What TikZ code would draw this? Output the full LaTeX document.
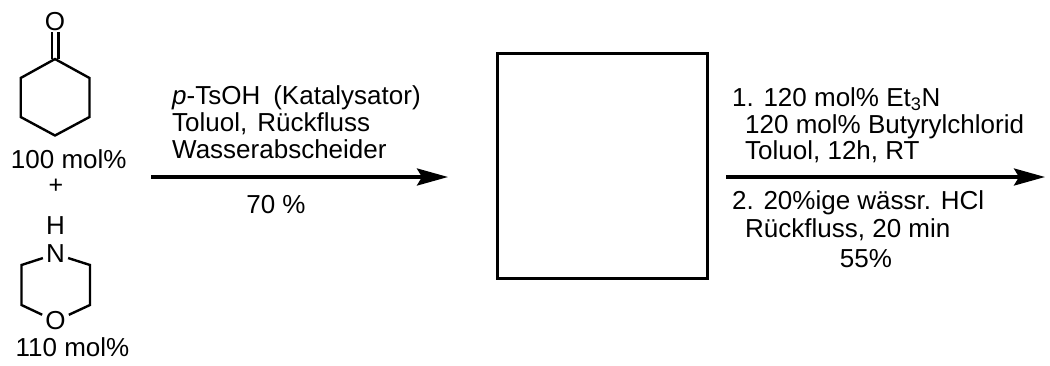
\documentclass[tikz,border=0pt]{standalone}
\usepackage{fontspec}
\setmainfont{Liberation Sans}
\usetikzlibrary{arrows.meta}
\begin{document}
\begin{tikzpicture}[x=1pt,y=-1pt,
  bond/.style={line width=2.4pt},
  atom/.style={font=\fontsize{26}{28}\selectfont, inner xsep=3pt, inner ysep=1.2pt},
  txt/.style={font=\fontsize{26}{28}\selectfont, inner sep=0pt, anchor=base west},
  txtc/.style={font=\fontsize{26}{28}\selectfont, inner sep=0pt, anchor=base},
  rxn/.style={line width=3.4pt, -{Stealth[length=31pt,width=17pt,inset=5pt]}},
  boxst/.style={draw, line width=3pt, inner sep=0pt, minimum width=210.7pt, minimum height=225pt}]
\useasboundingbox (0,0) rectangle (1050,365);

% cyclohexanone
\coordinate (c1) at (55,59);
\coordinate (c2) at (89.5,78);
\coordinate (c3) at (89.5,117);
\coordinate (c4) at (55,135.5);
\coordinate (c5) at (20.7,117);
\coordinate (c6) at (20.7,78);
\draw[bond] (c1)--(c2)--(c3)--(c4)--(c5)--(c6)--cycle;
\node[atom] (ok) at (55,21.8) {O};
\draw[bond] ([xshift=-3.3pt]c1) -- ([xshift=-3.3pt]ok.south);
\draw[bond] ([xshift=3.3pt]c1) -- ([xshift=3.3pt]ok.south);
\node[txtc, text height=18pt] (r1amt) at (68.8,168) {100 mol\%};
\node[font=\fontsize{25}{27}\selectfont, inner sep=0pt] (plus) at (56,186) {+};

% morpholine
\node[atom] (n) at (55.5,254) {N};
\node[atom] (h) at (55.5,226) {H};
\node[atom, inner ysep=0pt] (om) at (55.5,321) {O};
\coordinate (m1) at (21.5,265);
\coordinate (m2) at (21.5,305);
\coordinate (m3) at (90,305);
\coordinate (m4) at (90,265);
\draw[bond] (n) -- (m1) -- (m2) -- (om);
\draw[bond] (om) -- (m3) -- (m4) -- (n);
\node[txtc, text height=17.5pt] (r2amt) at (72.5,356) {110 mol\%};

% arrow 1
\coordinate (a1s) at (151,177);
\coordinate (a1e) at (448,177);
\draw[rxn] (a1s) -- (a1e);
\node[txt] (t1a) at (172,104) {\textit{p}-TsOH\hspace{13pt}(Katalysator)};
\node[txt] (t1b) at (172,131) {Toluol,\hspace{10pt}Rückfluss};
\node[txt] (t1c) at (172,158) {Wasserabscheider};
\node[txtc] (y1) at (276,213) {70 \%};

% product box
\node[boxst] (prod) at (602.35,165.5) {};

% arrow 2
\coordinate (a2s) at (726,177);
\coordinate (a2e) at (1045,177);
\draw[rxn] (a2s) -- (a2e);
\node[txt] (t2a) at (732,106) {1. 120 mol\% Et\textsubscript{3}N};
\node[txt] (t2b) at (745,133) {120 mol\% Butyrylchlorid};
\node[txt] (t2c) at (745,159) {Toluol, 12h, RT};
\node[txt] (t2d) at (732,209) {2. 20\%ige wässr. HCl};
\node[txt] (t2e) at (745,237) {Rückfluss, 20 min};
\node[txtc] (y2) at (866,267) {55\%};
\end{tikzpicture}
\end{document}
